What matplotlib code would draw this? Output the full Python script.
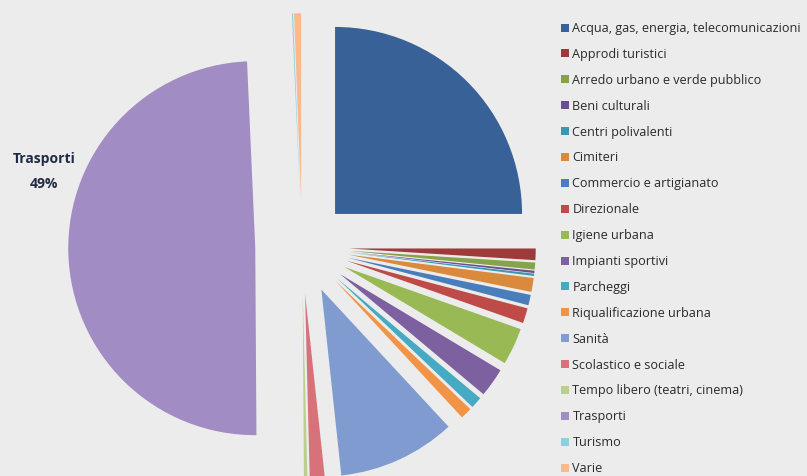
import numpy as np
import matplotlib
matplotlib.use("Agg")
from matplotlib import pyplot as plt

categories = [
    "Acqua, gas, energia, telecomunicazioni",
    "Approdi turistici",
    "Arredo urbano e verde pubblico",
    "Beni culturali",
    "Centri polivalenti",
    "Cimiteri",
    "Commercio e artigianato",
    "Direzionale",
    "Igiene urbana",
    "Impianti sportivi",
    "Parcheggi",
    "Riqualificazione urbana",
    "Sanità",
    "Scolastico e sociale",
    "Tempo libero (teatri, cinema)",
    "Trasporti",
    "Turismo",
    "Varie",
]
shares = [25.0, 1.0, 0.6, 0.2, 0.2, 1.2, 0.9, 1.3, 3.2, 2.5, 1.0, 1.0,
          10.2, 1.3, 0.3, 49.4, 0.1, 0.6]
colors = ["#386197", "#9e3b3a", "#86a24a", "#6b4f8c", "#3a98b0", "#d98a3c",
          "#4a7ebb", "#be4b48", "#98b954", "#7d60a0", "#46aac5", "#f29446",
          "#7f9bd0", "#d7727a", "#b9cf8a", "#a18cc3", "#8fd0e0", "#f8b98c"]

bg = "#ececec"
W, H = 807, 476
fig = plt.figure(figsize=(W / 100, H / 100), dpi=100, facecolor=bg)

# axes over the whole figure, 1 data unit = pie radius in pixels
r_px = 187
cx, cy = 302, 247
ax = fig.add_axes([0, 0, 1, 1])
ax.set_facecolor(bg)
ax.axis("off")

wedges, _ = ax.pie(shares, colors=colors, startangle=90, counterclock=False,
                   explode=[0.25] * len(shares), radius=1,
                   wedgeprops=dict(linewidth=0))
ax.set_xlim(-cx / r_px, (W - cx) / r_px)
ax.set_ylim(-(H - cy) / r_px, cy / r_px)

i = categories.index("Trasporti")
pct = round(shares[i] / sum(shares) * 100)
fig.text(44 / W, 1 - 172 / H, f"Trasporti\n{pct}%", ha="center", va="center",
         fontsize=10, fontweight="bold", color="#1f2a44", family="Open Sans",
         linespacing=2.0)

leg = fig.legend(wedges, categories, loc="upper left",
                 bbox_to_anchor=(561 / W, 1 - 22 / H), frameon=False,
                 prop=dict(family="Open Sans", size=9.1), labelcolor="#2a2a2a",
                 handlelength=0.6, handleheight=0.6, handletextpad=0.3,
                 labelspacing=1.02, borderaxespad=0, borderpad=0)

fig.savefig("out.png", dpi=100, facecolor=bg)
